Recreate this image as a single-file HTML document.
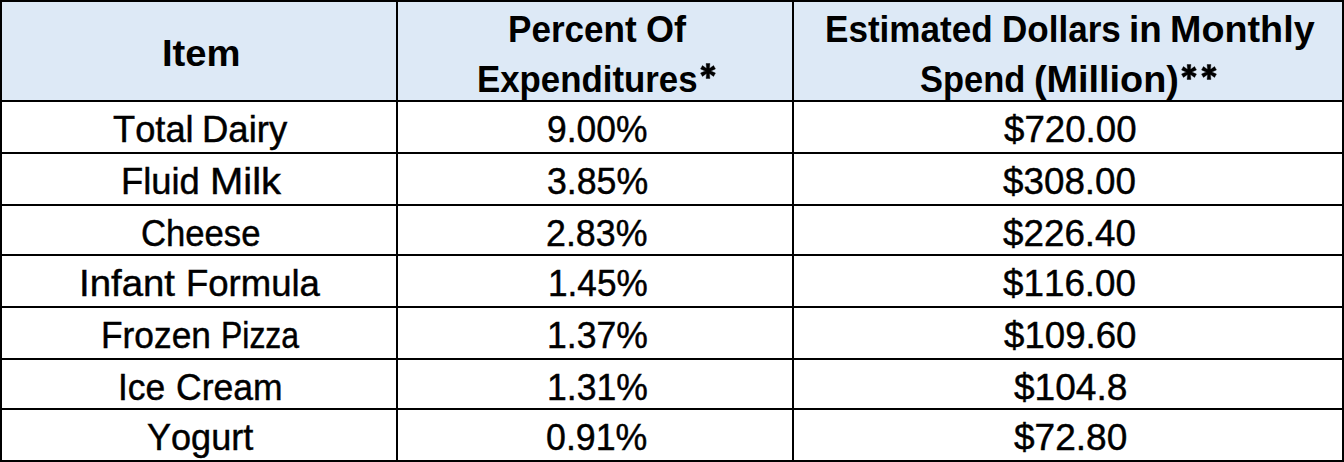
<!DOCTYPE html>
<html><head><meta charset="utf-8"><style>
html,body{margin:0;padding:0;background:#fff}
body{width:1344px;height:462px;position:relative;overflow:hidden;font-family:"Liberation Sans",sans-serif;color:#000;font-kerning:none}
.f,.ln,.st{position:absolute}
.ln{background:#000}
.t,.c{position:absolute;font-size:37px;white-space:nowrap;height:41.34px;line-height:41.34px}
.t{transform-origin:0 0}
.c{text-align:center}
.c span{display:inline-block;transform-origin:50% 50%}
.r{-webkit-text-stroke:0.45px #000}
.b{font-weight:bold}
</style></head><body>
<div class="f" style="left:0;top:0;width:1344px;height:100px;background:#dde9f6"></div>
<div class="ln" style="left:0;top:0px;width:1344px;height:2px"></div>
<div class="ln" style="left:0;top:100px;width:1344px;height:2px"></div>
<div class="ln" style="left:0;top:152px;width:1344px;height:2px"></div>
<div class="ln" style="left:0;top:204px;width:1344px;height:2px"></div>
<div class="ln" style="left:0;top:254px;width:1344px;height:2px"></div>
<div class="ln" style="left:0;top:306px;width:1344px;height:2px"></div>
<div class="ln" style="left:0;top:358px;width:1344px;height:2px"></div>
<div class="ln" style="left:0;top:408px;width:1344px;height:2px"></div>
<div class="ln" style="left:0;top:460px;width:1344px;height:2px"></div>
<div class="ln" style="left:0px;top:0;width:2px;height:462px"></div>
<div class="ln" style="left:396px;top:0;width:2px;height:462px"></div>
<div class="ln" style="left:792px;top:0;width:2px;height:462px"></div>
<div class="ln" style="left:1342px;top:0;width:2px;height:462px"></div>
<div class="t b" style="left:161.52px;top:32.50px;transform:scaleX(1.0328)">Item</div>
<div class="t b" style="left:507.73px;top:8.50px;transform:scaleX(0.9485)">Percent</div>
<div class="t b" style="left:645.76px;top:8.50px;transform:scaleX(0.9749)">Of</div>
<div class="t b" style="left:477.25px;top:58.50px;transform:scaleX(0.9410)">Expenditures</div>
<div class="t b" style="left:824.73px;top:8.50px;transform:scaleX(0.9484)">Estimated</div>
<div class="t b" style="left:1001.73px;top:8.50px;transform:scaleX(0.9473)">Dollars</div>
<div class="t b" style="left:1128.50px;top:8.50px;transform:scaleX(0.9953)">in</div>
<div class="t b" style="left:1169.55px;top:8.50px;transform:scaleX(1.0199)">Monthly</div>
<div class="t b" style="left:919.70px;top:58.50px;transform:scaleX(0.9305)">Spend</div>
<div class="t b" style="left:1033.70px;top:58.50px;transform:scaleX(1.0221)">(Million)</div>
<svg class="st" style="left:698px;top:61.3px" width="20" height="20" viewBox="-10 -10 20 20"><path d="M1.20,0.00 L1.90,-7.50 L-1.90,-7.50 L-1.20,-0.00Z M0.60,1.04 L7.45,-2.10 L5.55,-5.40 L-0.60,-1.04Z M-0.60,1.04 L5.55,5.40 L7.45,2.10 L0.60,-1.04Z M-1.20,0.00 L-1.90,7.50 L1.90,7.50 L1.20,-0.00Z M-0.60,-1.04 L-7.45,2.10 L-5.55,5.40 L0.60,1.04Z M0.60,-1.04 L-5.55,-5.40 L-7.45,-2.10 L-0.60,1.04Z " fill="#000" stroke="#000" stroke-width="0.4" stroke-linejoin="round"/></svg>
<svg class="st" style="left:1178.9px;top:61.599999999999994px" width="20" height="20" viewBox="-10 -10 20 20"><path d="M1.20,0.00 L1.90,-7.50 L-1.90,-7.50 L-1.20,-0.00Z M0.60,1.04 L7.45,-2.10 L5.55,-5.40 L-0.60,-1.04Z M-0.60,1.04 L5.55,5.40 L7.45,2.10 L0.60,-1.04Z M-1.20,0.00 L-1.90,7.50 L1.90,7.50 L1.20,-0.00Z M-0.60,-1.04 L-7.45,2.10 L-5.55,5.40 L0.60,1.04Z M0.60,-1.04 L-5.55,-5.40 L-7.45,-2.10 L-0.60,1.04Z " fill="#000" stroke="#000" stroke-width="0.4" stroke-linejoin="round"/></svg>
<svg class="st" style="left:1198.8px;top:61.599999999999994px" width="20" height="20" viewBox="-10 -10 20 20"><path d="M1.20,0.00 L1.90,-7.50 L-1.90,-7.50 L-1.20,-0.00Z M0.60,1.04 L7.45,-2.10 L5.55,-5.40 L-0.60,-1.04Z M-0.60,1.04 L5.55,5.40 L7.45,2.10 L0.60,-1.04Z M-1.20,0.00 L-1.90,7.50 L1.90,7.50 L1.20,-0.00Z M-0.60,-1.04 L-7.45,2.10 L-5.55,5.40 L0.60,1.04Z M0.60,-1.04 L-5.55,-5.40 L-7.45,-2.10 L-0.60,1.04Z " fill="#000" stroke="#000" stroke-width="0.4" stroke-linejoin="round"/></svg>
<div class="t r" style="left:112.64px;top:108.50px;transform:scaleX(0.9809)">Total</div>
<div class="t r" style="left:202.40px;top:108.50px;transform:scaleX(0.9863)">Dairy</div>
<div class="t r" style="left:547.23px;top:108.50px;transform:scaleX(0.9567)">9.00%</div>
<div class="t r" style="left:1003.69px;top:108.50px;transform:scaleX(0.9915)">$720.00</div>
<div class="t r" style="left:121.21px;top:160.50px;transform:scaleX(0.9828)">Fluid</div>
<div class="t r" style="left:209.94px;top:160.50px;transform:scaleX(1.0802)">Milk</div>
<div class="t r" style="left:546.66px;top:160.50px;transform:scaleX(0.9641)">3.85%</div>
<div class="t r" style="left:1003.39px;top:160.50px;transform:scaleX(0.9945)">$308.00</div>
<div class="t r" style="left:140.95px;top:212.50px;transform:scaleX(0.9369)">Cheese</div>
<div class="t r" style="left:546.35px;top:212.50px;transform:scaleX(0.9670)">2.83%</div>
<div class="t r" style="left:1003.39px;top:212.50px;transform:scaleX(0.9945)">$226.40</div>
<div class="t r" style="left:79.21px;top:262.50px;transform:scaleX(1.0369)">Infant</div>
<div class="t r" style="left:185.79px;top:262.50px;transform:scaleX(0.9870)">Formula</div>
<div class="t r" style="left:547.58px;top:262.50px;transform:scaleX(0.9504)">1.45%</div>
<div class="t r" style="left:1003.39px;top:262.50px;transform:scaleX(0.9945)">$116.00</div>
<div class="t r" style="left:101.18px;top:314.50px;transform:scaleX(0.9545)">Frozen</div>
<div class="t r" style="left:220.63px;top:314.50px;transform:scaleX(0.8633)">Pizza</div>
<div class="t r" style="left:546.65px;top:314.50px;transform:scaleX(0.9613)">1.37%</div>
<div class="t r" style="left:1003.59px;top:314.50px;transform:scaleX(0.9907)">$109.60</div>
<div class="t r" style="left:118.48px;top:366.50px;transform:scaleX(0.9560)">Ice</div>
<div class="t r" style="left:176.01px;top:366.50px;transform:scaleX(0.9601)">Cream</div>
<div class="t r" style="left:546.65px;top:366.50px;transform:scaleX(0.9613)">1.31%</div>
<div class="t r" style="left:1013.59px;top:366.50px;transform:scaleX(1.0018)">$104.8</div>
<div class="t r" style="left:147.21px;top:416.50px;transform:scaleX(0.9744)">Yogurt</div>
<div class="t r" style="left:546.13px;top:416.50px;transform:scaleX(0.9663)">0.91%</div>
<div class="t r" style="left:1013.59px;top:416.50px;transform:scaleX(1.0011)">$72.80</div>
</body></html>
